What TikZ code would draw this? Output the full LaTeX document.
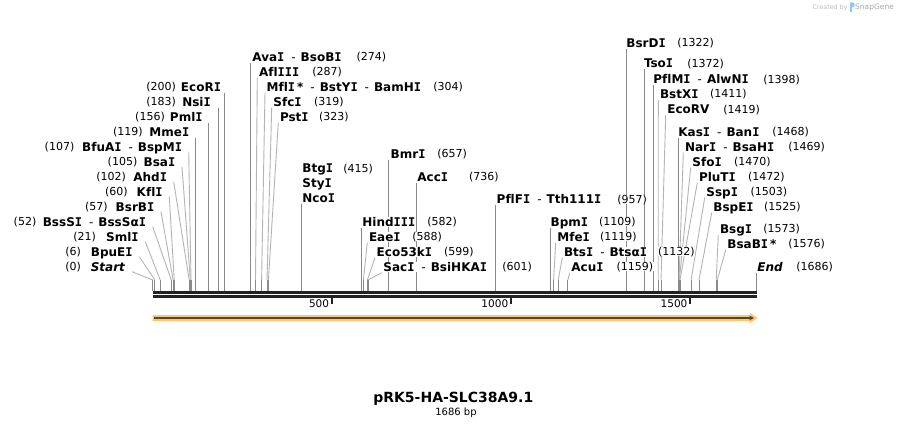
\documentclass[tikz,border=0pt]{standalone}
\usepackage{fontspec}
\setmainfont{DejaVu Sans}[Ligatures=NoCommon,BoldFont={DejaVu Sans Bold},ItalicFont={DejaVu Sans Oblique},BoldItalicFont={DejaVu Sans Bold Oblique}]
\newfontfamily\monofam{DejaVu Sans Mono}[Ligatures=NoCommon]
\newcommand\Ii{{\monofam I}}
\usetikzlibrary{backgrounds,calc}
\definecolor{vgray}{HTML}{8A8A8A}
\definecolor{dgray}{HTML}{B4B4B4}
\definecolor{axiscol}{HTML}{222222}
\definecolor{featfill}{HTML}{FAC870}
\definecolor{featline}{HTML}{55472F}
\definecolor{wmcol}{HTML}{BBBBBB}
\definecolor{wmdark}{HTML}{A8A8A8}
\definecolor{logocol}{HTML}{8CC8F0}
\tikzset{
  nm/.style={font=\fontsize{12}{12}\selectfont\bfseries, inner sep=0.5pt, text height=8.8pt, text depth=0pt, fill=white},
  nb/.style={font=\fontsize{11}{11}\selectfont, inner sep=0.5pt, text height=8pt, text depth=0pt, fill=white},
  vline/.style={draw=vgray, line width=0.9pt},
  dline/.style={draw=dgray, line width=0.9pt},
  ticklbl/.style={font=\fontsize{10.5}{10.5}\selectfont, inner sep=0pt, text height=7.6pt, text depth=0pt},
}
\newcommand\sepr{\hspace{7pt}{\mdseries -}\hspace{5pt}}
% left label, diagonal leader: id, name end x, y, site x, name, number end x, number
\newcommand\LD[7]{%
  \node[nm,anchor=east] (n#1) at (#2,-#3) {#5};
  \node[nb,anchor=east] (m#1) at (#6,-#3) {#7};
  \coordinate (s#1) at (#4,-291);
  \coordinate (b#1) at (#4,-280);
  \begin{pgfonlayer}{background}
    \draw[dline] ([shift={(6,-5)}]n#1.east) -- (b#1);
    \draw[vline] (b#1) -- (s#1);
  \end{pgfonlayer}}
% left label, vertical leader
\newcommand\LV[7]{%
  \node[nm,anchor=east] (n#1) at (#2,-#3) {#5};
  \node[nb,anchor=east] (m#1) at (#6,-#3) {#7};
  \coordinate (s#1) at (#4,-291);
  \coordinate (t#1) at ([yshift=-6pt]n#1.east);
  \begin{pgfonlayer}{background}
    \draw[vline] (s#1 |- t#1) -- (s#1);
  \end{pgfonlayer}}
% right label, diagonal leader: id, name start x, y, site x, name, number start x, number
\newcommand\RD[7]{%
  \node[nm,anchor=west] (n#1) at (#2,-#3) {#5};
  \node[nb,anchor=west] (m#1) at (#6,-#3) {#7};
  \coordinate (s#1) at (#4,-291);
  \coordinate (b#1) at (#4,-280);
  \begin{pgfonlayer}{background}
    \draw[dline] ([shift={(-1,-6)}]n#1.west) -- (b#1);
    \draw[vline] (b#1) -- (s#1);
  \end{pgfonlayer}}
% right label, vertical leader
\newcommand\RV[7]{%
  \node[nm,anchor=west] (n#1) at (#2,-#3) {#5};
  \node[nb,anchor=west] (m#1) at (#6,-#3) {#7};
  \coordinate (s#1) at (#4,-291);
  \coordinate (t#1) at ([yshift=-6pt]n#1.west);
  \begin{pgfonlayer}{background}
    \draw[vline] (s#1 |- t#1) -- (s#1);
  \end{pgfonlayer}}
\begin{document}
\begin{tikzpicture}[x=1pt,y=1pt]
\begin{pgfonlayer}{background}
  \fill[white] (0,0) rectangle (910,-430);
\end{pgfonlayer}
\useasboundingbox (0,0) rectangle (910,-430);

% watermark
\node[font=\fontsize{6.3}{6.3}\selectfont, text=wmcol, anchor=west, inner sep=0pt] (wm1) at (812.5,-7.3) {Created by};
\fill[logocol] (850,-2.5) -- (852.6,-2.5) .. controls (855.2,-2.5) and (855.2,-7.4) .. (852.6,-7.4) -- (851.9,-7.4) -- (851.9,-12) -- (850,-12) -- cycle;
\node[font=\fontsize{7.5}{7.5}\selectfont, text=wmdark, anchor=west, inner sep=0pt] (wm2) at (855,-7.3) {SnapGene};

% axis
\coordinate (ax0) at (152.7,-292.3);
\coordinate (ax1) at (756.7,-292.3);
\coordinate (bx0) at (152.7,-296.3);
\coordinate (bx1) at (756.7,-296.3);
\draw[axiscol, line width=2.7pt] (ax0) -- (ax1);
\draw[axiscol, line width=2.7pt] (bx0) -- (bx1);
\foreach \p/\t in {331.8/500, 510.9/1000, 690.1/1500}{
  \draw[axiscol, line width=2pt] (\p,-297.5) -- (\p,-304);
  \node[ticklbl, anchor=east] at (\p-2.5,-304) {\t};
}

% feature arrow
\coordinate (f0) at (152.7,-318);
\coordinate (f1) at (757.7,-318);
\fill[featfill] (152.7,-315) -- (750,-315) -- (750,-312.7) -- (f1) -- (750,-323.3) -- (750,-321) -- (152.7,-321) -- cycle;
\draw[featline, line width=2pt] (154,-318) -- (750.5,-318);
\fill[featline] (749.5,-315.6) -- (754,-318) -- (749.5,-320.4) -- cycle;

% left labels
\LD{a0}{126}{266.7}{152.7}{\textit{Start}}{81.7}{(0)}
\LD{a6}{133.3}{251.7}{154.85}{BpuE\Ii}{81.7}{(6)}
\LD{a21}{139.3}{236.7}{160.2}{Sml\Ii}{96.7}{(21)}
\LD{a52}{146.7}{221.7}{171.3}{BssS\Ii\sepr BssSα\Ii}{37}{(52)}
\LD{a57}{155}{206.7}{173.1}{BsrB\Ii}{108.3}{(57)}
\LD{a60}{163.3}{191.7}{174.2}{Kfl\Ii}{128.3}{(60)}
\LD{a102}{167.7}{176.7}{189.2}{Ahd\Ii}{126.7}{(102)}
\LD{a105}{176}{161.7}{190.3}{Bsa\Ii}{138}{(105)}
\LD{a107}{182.7}{146.7}{191.0}{BfuA\Ii\sepr BspM\Ii}{75}{(107)}
\LV{a119}{190}{131.7}{195.3}{Mme\Ii}{143.3}{(119)}
\LV{a156}{203.3}{116.7}{208.6}{Pml\Ii}{165.5}{(156)}
\LV{a183}{211.5}{101.7}{218.3}{Nsi\Ii}{176.7}{(183)}
\LV{a200}{221.7}{86.7}{224.35}{EcoR\Ii}{176.7}{(200)}

% right labels
\RV{b274}{251.7}{56.7}{250.9}{Ava\Ii\sepr BsoB\Ii}{356}{(274)}
\RD{b287}{258.3}{71.7}{255.5}{Afl\Ii\Ii\Ii}{311.7}{(287)}
\RD{b304}{266}{86.7}{261.6}{Mfl\Ii\hspace{2pt}*\sepr BstY\Ii\sepr BamH\Ii}{432.7}{(304)}
\RD{b319}{272.7}{101.7}{267.0}{Sfc\Ii}{313.3}{(319)}
\RD{b323}{279.3}{116.7}{268.4}{Pst\Ii}{318.3}{(323)}

\node[nm,anchor=west] (nBtgI) at (301.7,-168.3) {Btg\Ii};
\node[nb,anchor=west] (mBtgI) at (342.7,-168.3) {(415)};
\node[nm,anchor=west] (nStyI) at (301.7,-183.3) {Sty\Ii};
\node[nm,anchor=west] (nNcoI) at (301.7,-198.3) {Nco\Ii};
\coordinate (s415) at (301.4,-291);
\coordinate (t415) at ([yshift=-6pt]nNcoI.west);
\begin{pgfonlayer}{background}
  \draw[vline] (s415 |- t415) -- (s415);
\end{pgfonlayer}

\RV{b657}{390}{154}{388.1}{Bmr\Ii}{436.7}{(657)}
\RV{b736}{416.7}{176.7}{416.4}{Acc\Ii}{468.3}{(736)}
\RV{b582}{361.7}{221.7}{361.2}{Hind\Ii\Ii\Ii}{426.7}{(582)}
\RD{b588}{368.3}{236.7}{363.4}{Eae\Ii}{411.7}{(588)}
\RD{b599}{376}{251.7}{367.3}{Eco53k\Ii}{443.3}{(599)}
\RD{b601}{382.7}{266.7}{368.0}{Sac\Ii\sepr BsiHKA\Ii}{501.7}{(601)}
\RV{b957}{496}{199.3}{495.5}{PflF\Ii\sepr Tth111\Ii}{616.7}{(957)}
\RV{b1109}{550}{221.7}{550.0}{Bpm\Ii}{598.3}{(1109)}
\RD{b1119}{556.7}{236.7}{553.6}{Mfe\Ii}{599.3}{(1119)}
\RD{b1132}{563.3}{251.7}{558.2}{Bts\Ii\sepr Btsα\Ii}{657.3}{(1132)}
\RD{b1159}{570.7}{266.7}{567.9}{Acu\Ii}{616}{(1159)}
\RV{b1322}{625.7}{42.7}{626.3}{BsrD\Ii}{676.7}{(1322)}
\RV{b1372}{643.3}{63.3}{644.2}{Tso\Ii}{686.7}{(1372)}
\RV{b1398}{652.7}{79.3}{653.5}{PflM\Ii\sepr AlwN\Ii}{762.7}{(1398)}
\RD{b1411}{659.3}{94}{658.2}{BstX\Ii}{709.3}{(1411)}
\RD{b1419}{666.7}{109.3}{661.0}{EcoRV}{722.7}{(1419)}
\RV{b1468}{677.7}{131.7}{678.6}{Kas\Ii\sepr Ban\Ii}{771.7}{(1468)}
\RD{b1469}{684.3}{146.7}{679.0}{Nar\Ii\sepr BsaH\Ii}{787.7}{(1469)}
\RD{b1470}{691.7}{161.7}{679.3}{Sfo\Ii}{733.3}{(1470)}
\RD{b1472}{698.3}{176.7}{680.0}{PluT\Ii}{747.3}{(1472)}
\RD{b1503}{705.7}{191.7}{691.1}{Ssp\Ii}{750}{(1503)}
\RD{b1525}{712.7}{206.7}{699.0}{BspE\Ii}{763.3}{(1525)}
\RD{b1573}{719.3}{229}{716.2}{Bsg\Ii}{762.7}{(1573)}
\RD{b1576}{726.7}{244}{717.3}{BsaB\Ii\hspace{2pt}*}{787.7}{(1576)}
\RV{b1686}{756.7}{266.7}{756.7}{\textit{End}}{795.7}{(1686)}

% title
\node[font=\fontsize{14}{14}\selectfont\bfseries, inner sep=0pt] (title) at (453.3,-399) {pRK5-HA-SLC38A9.1};
\node[font=\fontsize{10}{10}\selectfont, inner sep=0pt] (size) at (456,-413) {1686 bp};
\end{tikzpicture}
\end{document}
